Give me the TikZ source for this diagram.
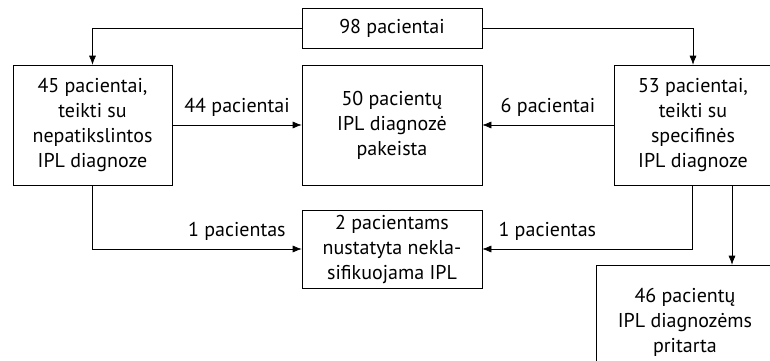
\documentclass[tikz,border=0pt]{standalone}
\usepackage{fontspec}
\setmainfont{PT Sans}
\usetikzlibrary{positioning,arrows.meta}

\begin{document}
\begin{tikzpicture}[x=1pt,y=1pt,-{Latex[length=9pt,width=7pt]},on grid,semithick,box/.style={rectangle,draw,align=center,inner sep=2pt,font=\fontsize{20}{25}\selectfont},lbl/.style={font=\fontsize{20}{25}\selectfont,above,yshift=5pt}]
\clip (0,0) rectangle (770,360);
\node[box,minimum width=180pt,minimum height=40pt] (A) at (392,332) {98 pacientai};
\node[box,minimum width=159pt,minimum height=120pt] (B) [below left=97pt and 299.5pt of A] {45 pacientai,\\teikti su\\nepatikslintos\\IPL diagnoze};
\node[box,minimum width=180pt,minimum height=120pt] (C) [below=97pt of A] {50 pacientų\\IPL diagnozė\\pakeista};
\node[box,minimum width=158pt,minimum height=120pt] (D) [below right=97pt and 301pt of A] {53 pacientai,\\teikti su\\specifinės\\IPL diagnoze};
\node[box,minimum width=180pt,minimum height=78pt] (E) [below=124pt of C] {2 pacientams\\nustatyta nekla-\\sifikuojama IPL};
\node[box,minimum width=178pt,minimum height=114pt] (F) [below left=197pt and 8pt of D] {46 pacientų\\IPL diagnozėms\\pritarta};
\draw (A.west) -| (B.north);
\draw (A.east) -| (D.north);
\draw (B.east) -- node[lbl] {44 pacientai} (C.west);
\draw (D.west) -- node[lbl] {6 pacientai} (C.east);
\draw (B.south) |- node[lbl,pos=0.845] {1 pacientas} (E.west);
\draw ([xshift=-1pt]D.south) |- node[lbl,pos=0.845] {1 pacientas} (E.east);
\draw ([xshift=39pt]D.south) -- ([xshift=39pt]D.south |- F.north);
\end{tikzpicture}
\end{document}
